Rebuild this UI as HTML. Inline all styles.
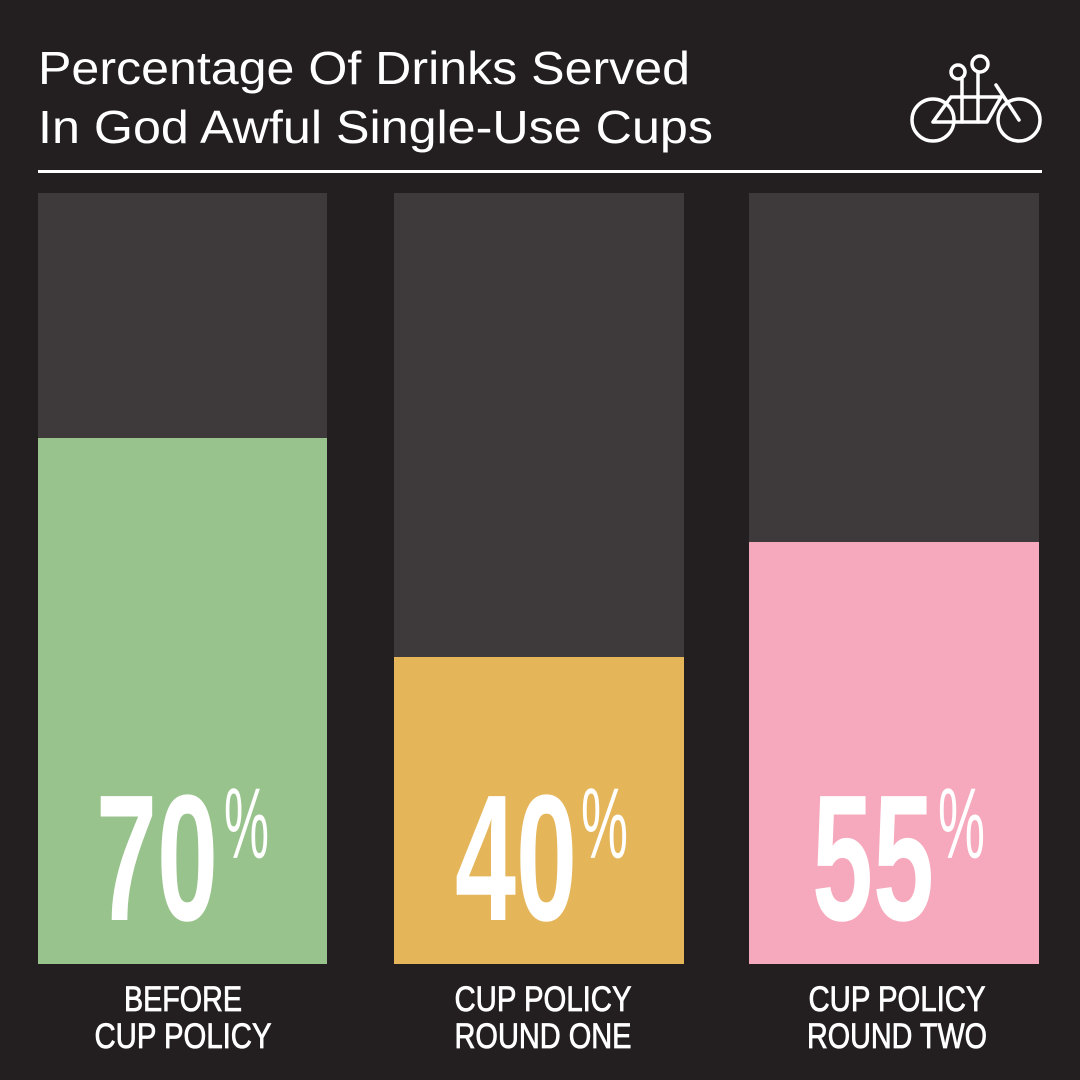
<!DOCTYPE html>
<html><head><meta charset="utf-8"><style>
html,body{margin:0;padding:0;background:#231f20;}
svg{display:block}
</style></head><body>
<svg width="1080" height="1080" viewBox="0 0 1080 1080" xmlns="http://www.w3.org/2000/svg">
<rect width="1080" height="1080" fill="#231f20"/>
<g font-family="Liberation Sans, sans-serif" fill="#fff" font-size="46">
<text x="38" y="84" textLength="652" lengthAdjust="spacingAndGlyphs">Percentage Of Drinks Served</text>
<text x="38" y="143" textLength="675" lengthAdjust="spacingAndGlyphs">In God Awful Single-Use Cups</text>
</g>
<rect x="38" y="170" width="1004" height="3" fill="#fff"/>
<g fill="none" stroke="#fff" stroke-width="3.5" stroke-linecap="round" stroke-linejoin="round">
<circle cx="933" cy="120" r="21"/>
<circle cx="1019" cy="120" r="21"/>
<circle cx="958" cy="72" r="7"/>
<circle cx="980" cy="64" r="8"/>
<path d="M933 122 L951 97 L1001 97 M933 122 L987 122 L1001 97 M996 85 L1019 120"/>
<path d="M962 79 L962 122 M978 72 L978 122"/>
</g>
<rect x="38" y="193" width="289" height="771" fill="#3e3a3b"/>
<rect x="38" y="438" width="289" height="526" fill="#98c38c"/>
<rect x="394" y="193" width="290" height="771" fill="#3e3a3b"/>
<rect x="394" y="657" width="290" height="307" fill="#e5b55a"/>
<rect x="749" y="193" width="290" height="771" fill="#3e3a3b"/>
<rect x="749" y="542" width="290" height="422" fill="#f6a9bc"/>
<g font-family="Liberation Sans Narrow, Liberation Sans, sans-serif" font-weight="bold" fill="#fff">
<g font-size="180">
<text x="96" y="920" textLength="122" lengthAdjust="spacingAndGlyphs">70</text>
<text x="455" y="920" textLength="122" lengthAdjust="spacingAndGlyphs">40</text>
<text x="812" y="920" textLength="122" lengthAdjust="spacingAndGlyphs">55</text>
</g>
<g font-size="100" font-weight="normal">
<text x="224" y="858" textLength="45" lengthAdjust="spacingAndGlyphs">%</text>
<text x="581" y="858" textLength="47" lengthAdjust="spacingAndGlyphs">%</text>
<text x="938" y="858" textLength="47" lengthAdjust="spacingAndGlyphs">%</text>
</g>
</g>
<g font-family="Liberation Sans Narrow, Liberation Sans, sans-serif" fill="#fff" stroke="#fff" stroke-width="0.8" font-size="35" text-anchor="middle">
<text x="183" y="1011" textLength="118" lengthAdjust="spacingAndGlyphs">BEFORE</text>
<text x="183" y="1048" textLength="177" lengthAdjust="spacingAndGlyphs">CUP POLICY</text>
<text x="543" y="1011" textLength="177" lengthAdjust="spacingAndGlyphs">CUP POLICY</text>
<text x="543" y="1048" textLength="177" lengthAdjust="spacingAndGlyphs">ROUND ONE</text>
<text x="897" y="1011" textLength="177" lengthAdjust="spacingAndGlyphs">CUP POLICY</text>
<text x="897" y="1048" textLength="180" lengthAdjust="spacingAndGlyphs">ROUND TWO</text>
</g>
</svg>
</body></html>
